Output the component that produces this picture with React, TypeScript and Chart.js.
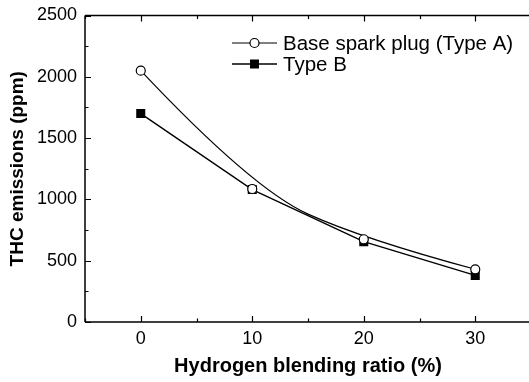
import React, { useEffect, useRef } from "react";
import { Chart, registerables } from "chart.js";

Chart.register(...registerables);

const hydrogenRatio = [0, 10, 20, 30];
const typeA = [2050, 1085, 675, 430];
const typeB = [1700, 1080, 655, 380];
const seriesLabels = ["Base spark plug (Type A)", "Type B"];
const xTitle = "Hydrogen blending ratio (%)";
const yTitle = "THC emissions (ppm)";

const FONT = "'Liberation Sans', Arial, sans-serif";

const framePlugin = {
  id: "frame",
  beforeDatasetsDraw(chart: any) {
    // Origin-style quadratic B-spline through dataset A control points
    const meta = chart.getDatasetMeta(0);
    const pts = meta.data.map((p: any) => ({ x: p.x, y: p.y }));
    const ctx = chart.ctx;
    ctx.save();
    ctx.strokeStyle = "#000";
    ctx.lineWidth = 1.2;
    ctx.beginPath();
    ctx.moveTo(pts[0].x, pts[0].y);
    for (let i = 1; i < pts.length - 2; i++) {
      const mx = (pts[i].x + pts[i + 1].x) / 2;
      const my = (pts[i].y + pts[i + 1].y) / 2;
      ctx.quadraticCurveTo(pts[i].x, pts[i].y, mx, my);
    }
    const n = pts.length;
    ctx.quadraticCurveTo(pts[n - 2].x, pts[n - 2].y, pts[n - 1].x, pts[n - 1].y);
    ctx.stroke();
    ctx.restore();
  },
  afterDraw(chart: any) {
    const ctx = chart.ctx;
    const { left, right, top, bottom } = chart.chartArea;
    const xs = chart.scales.x;
    const ys = chart.scales.y;
    ctx.save();
    ctx.strokeStyle = "#000";
    ctx.lineWidth = 1.5;
    ctx.beginPath();
    ctx.moveTo(left, top);
    ctx.lineTo(right, top);
    ctx.moveTo(left, bottom);
    ctx.lineTo(right, bottom);
    ctx.moveTo(left, top);
    ctx.lineTo(left, bottom);
    ctx.stroke();
    ctx.lineWidth = 1.2;
    ctx.beginPath();
    for (let v = xs.min; v <= xs.max; v += 5) {
      const px = Math.round(xs.getPixelForValue(v)) + 0.5;
      const len = v % 10 === 0 ? 6 : 3.5;
      ctx.moveTo(px, bottom);
      ctx.lineTo(px, bottom - len);
      ctx.moveTo(px, top);
      ctx.lineTo(px, top + len);
    }
    for (let v = ys.min; v <= ys.max; v += 250) {
      const py = Math.round(ys.getPixelForValue(v)) + 0.5;
      const len = v % 500 === 0 ? 6 : 3.5;
      ctx.moveTo(left, py);
      ctx.lineTo(left + len, py);
    }
    ctx.stroke();

    // legend
    const lx0 = 232;
    const lx1 = 277;
    const mx = 254.5;
    const textX = 283;
    const rows = [43, 64];
    ctx.font = `20.5px ${FONT}`;
    ctx.textBaseline = "middle";
    ctx.textAlign = "left";
    ctx.fillStyle = "#000";
    rows.forEach((ry, i) => {
      ctx.lineWidth = i === 0 ? 1.2 : 1.4;
      ctx.strokeStyle = "#000";
      ctx.beginPath();
      ctx.moveTo(lx0, ry);
      ctx.lineTo(lx1, ry);
      ctx.stroke();
      if (i === 0) {
        ctx.beginPath();
        ctx.arc(mx, ry, 4.5, 0, Math.PI * 2);
        ctx.fillStyle = "#fff";
        ctx.fill();
        ctx.lineWidth = 1.2;
        ctx.stroke();
      } else {
        ctx.fillStyle = "#000";
        ctx.fillRect(mx - 4.5, ry - 4.5, 9, 9);
      }
      ctx.fillStyle = "#000";
      ctx.fillText(seriesLabels[i], textX, ry + 1);
    });
    ctx.restore();
  },
};

export default function App() {
  const ref = useRef<HTMLCanvasElement | null>(null);
  useEffect(() => {
    if (!ref.current) return;
    Chart.defaults.color = "#000";
    const chart = new Chart(ref.current, {
      type: "line",
      data: {
        datasets: [
          {
            label: seriesLabels[0],
            data: hydrogenRatio.map((x, i) => ({ x, y: typeA[i] })),
            showLine: false,
            pointStyle: "circle",
            pointRadius: 4.5,
            pointBackgroundColor: "#fff",
            pointBorderColor: "#000",
            pointBorderWidth: 1.2,
          },
          {
            label: seriesLabels[1],
            data: hydrogenRatio.map((x, i) => ({ x, y: typeB[i] })),
            borderColor: "#000",
            borderWidth: 1.4,
            tension: 0,
            pointStyle: "rect",
            pointRadius: 6.4,
            pointBackgroundColor: "#000",
            pointBorderColor: "#000",
            pointBorderWidth: 0,
          },
        ],
      },
      options: {
        responsive: false,
        animation: false,
        devicePixelRatio: 1,
        layout: { autoPadding: false, padding: { left: 0, top: 15.5, right: 0, bottom: 0 } },
        plugins: { legend: { display: false }, tooltip: { enabled: false } },
        scales: {
          x: {
            type: "linear",
            min: -5,
            max: 35,
            grid: { display: false, drawTicks: false },
            border: { display: false },
            ticks: {
              stepSize: 5,
              padding: 6,
              maxRotation: 0,
              autoSkip: false,
              font: { size: 18, family: FONT },
              color: "#000",
              callback: (v: any) =>
                Number(v) % 10 === 0 && Number(v) >= 0 && Number(v) <= 30 ? String(v) : "",
            },
            title: {
              display: true,
              text: xTitle,
              font: { size: 20, weight: "bold", family: FONT },
              color: "#000",
              padding: { top: 0, bottom: 4 },
            },
            afterFit: (s: any) => {
              s.height = 60;
              s.paddingLeft = 0;
              s.paddingRight = 0;
            },
          },
          y: {
            type: "linear",
            min: 0,
            max: 2500,
            grid: { display: false, drawTicks: false },
            border: { display: false },
            ticks: {
              stepSize: 500,
              padding: 8,
              font: { size: 18, family: FONT },
              color: "#000",
              callback: (v: any) => String(v),
            },
            title: {
              display: true,
              text: yTitle,
              font: { size: 19, weight: "bold", family: FONT },
              color: "#000",
              padding: { top: 6, bottom: 0 },
            },
            afterFit: (s: any) => {
              s.width = 85;
              s.paddingTop = 0;
              s.paddingBottom = 0;
            },
          },
        },
      },
      plugins: [framePlugin],
    } as any);
    return () => chart.destroy();
  }, []);
  return (
    <div
      style={{
        position: "fixed",
        left: 0,
        top: 0,
        width: 529,
        height: 382,
        overflow: "hidden",
        background: "#fff",
      }}
    >
      <canvas ref={ref} width={531} height={382} style={{ width: 531, height: 382, display: "block" }} />
    </div>
  );
}
